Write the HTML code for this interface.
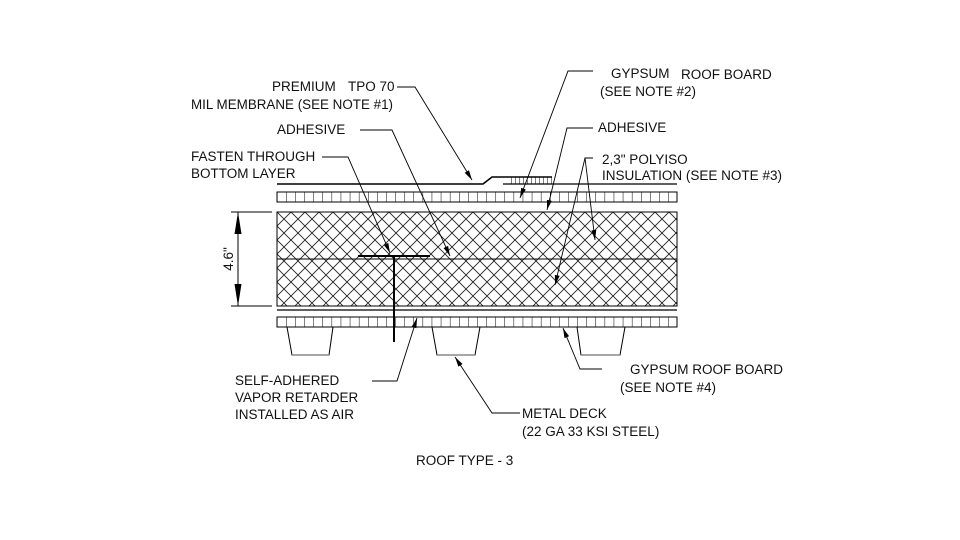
<!DOCTYPE html>
<html><head><meta charset="utf-8"><style>
html,body{margin:0;padding:0;background:#fff;}
svg{display:block;}
text{font-family:"Liberation Sans",Arial,sans-serif;font-size:13.5px;fill:#111;}
</style></head><body>
<svg width="960" height="540" viewBox="0 0 960 540" xmlns="http://www.w3.org/2000/svg">
<defs>
<pattern id="hx" width="14" height="14" patternUnits="userSpaceOnUse" x="277" y="212">
<path d="M0 0L14 14M14 0L0 14" stroke="#222" stroke-width="0.9" fill="none"/>
</pattern>
<pattern id="cells" width="9.1" height="20" patternUnits="userSpaceOnUse" x="277" y="0">
<path d="M0 0V20" stroke="#000" stroke-width="1"/>
</pattern>
<pattern id="tk" width="4" height="10" patternUnits="userSpaceOnUse" x="511" y="0">
<path d="M0 0V10" stroke="#000" stroke-width="1"/>
</pattern>
<marker id="ar" markerWidth="10" markerHeight="6" refX="10" refY="3" orient="auto" markerUnits="userSpaceOnUse">
<path d="M0 0.5L10 3L0 5.5Z" fill="#000"/>
</marker>
</defs>

<!-- membrane -->
<path d="M277 184H483L492 177H552" fill="none" stroke="#000" stroke-width="1.6"/>
<path d="M503 184H677" fill="none" stroke="#000" stroke-width="1.2"/>
<rect x="511" y="177" width="41" height="7" fill="url(#tk)"/>

<!-- top board -->
<rect x="277" y="192" width="400" height="10" fill="url(#cells)" stroke="#000" stroke-width="1"/>

<!-- insulation -->
<rect x="277" y="212" width="400" height="94" fill="url(#hx)" stroke="#000" stroke-width="1"/>
<line x1="277" y1="259" x2="677" y2="259" stroke="#000" stroke-width="1"/>

<!-- bottom -->
<line x1="277" y1="310" x2="677" y2="310" stroke="#000" stroke-width="1.2"/>
<rect x="277" y="317" width="400" height="10" fill="url(#cells)" stroke="#000" stroke-width="1"/>

<!-- deck flutes -->
<g fill="none" stroke="#000" stroke-width="1">
<path d="M287 327L292 355H329L333 327"/>
<path d="M432 327L437 355H475L480 327"/>
<path d="M577 327L581 355H620L625 327"/>
</g>
<g stroke="#888" stroke-width="1.5">
<line x1="292" y1="355" x2="329" y2="355"/>
<line x1="437" y1="355" x2="475" y2="355"/>
<line x1="581" y1="355" x2="620" y2="355"/>
</g>

<!-- fastener -->
<line x1="358" y1="256" x2="430" y2="256" stroke="#000" stroke-width="2"/>
<line x1="394" y1="256" x2="394" y2="342" stroke="#000" stroke-width="2"/>

<!-- dimension -->
<g stroke="#000" stroke-width="1">
<line x1="231" y1="212" x2="272" y2="212"/>
<line x1="231" y1="306" x2="272" y2="306"/>
<line x1="238" y1="212" x2="238" y2="306"/>
</g>
<path d="M238 212L234.5 234H241.5Z M238 306L234.5 284H241.5Z" fill="#000"/>
<text transform="translate(233,259) rotate(-90)" text-anchor="middle">4.6"</text>

<!-- leaders -->
<g fill="none" stroke="#000" stroke-width="0.9">
<path d="M397 87H415L472 180" marker-end="url(#ar)"/>
<path d="M360 130H392L450 256" marker-end="url(#ar)"/>
<path d="M322 157H348L390 253" marker-end="url(#ar)"/>
<path d="M593 71H568L520 198" marker-end="url(#ar)"/>
<path d="M593 128H567L547 210" marker-end="url(#ar)"/>
<path d="M593 158H585L595 240" marker-end="url(#ar)"/>
<path d="M585 158L555 285" marker-end="url(#ar)"/>
<path d="M372 381H397L417 318" marker-end="url(#ar)"/>
<path d="M520 413H492L455 357" marker-end="url(#ar)"/>
<path d="M602 369H580L563 328" marker-end="url(#ar)"/>
</g>

<!-- labels -->
<text x="272" y="91">PREMIUM</text>
<text x="348" y="91">TPO 70</text>
<text x="191" y="109" textLength="202" lengthAdjust="spacingAndGlyphs">MIL MEMBRANE (SEE NOTE #1)</text>
<text x="277" y="134">ADHESIVE</text>
<text x="191" y="161">FASTEN THROUGH</text>
<text x="191" y="178">BOTTOM LAYER</text>
<text x="611" y="78">GYPSUM</text>
<text x="681" y="79">ROOF BOARD</text>
<text x="600" y="96">(SEE NOTE #2)</text>
<text x="598" y="132">ADHESIVE</text>
<text x="602" y="164">2,3"  POLYISO</text>
<text x="602" y="180" textLength="180" lengthAdjust="spacingAndGlyphs">INSULATION (SEE NOTE #3)</text>
<text x="630" y="374">GYPSUM ROOF BOARD</text>
<text x="620" y="392">(SEE NOTE #4)</text>
<text x="235" y="385">SELF-ADHERED</text>
<text x="235" y="402">VAPOR RETARDER</text>
<text x="235" y="419">INSTALLED AS AIR</text>
<text x="522" y="418">METAL DECK</text>
<text x="522" y="436">(22 GA 33 KSI STEEL)</text>
<text x="416" y="465">ROOF TYPE - 3</text>
</svg>
</body></html>
